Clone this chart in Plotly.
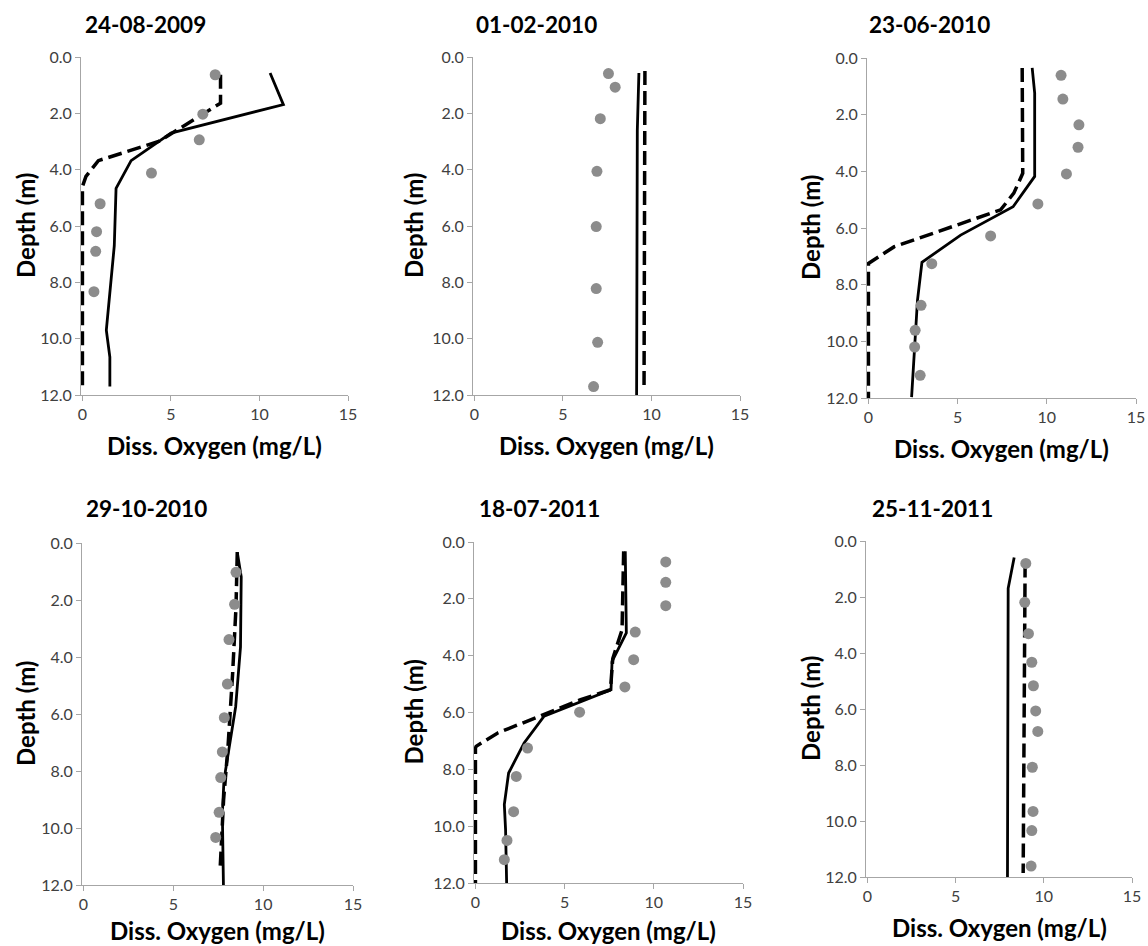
import plotly.graph_objects as go

W, H = 1148, 946

titles = ["24-08-2009", "01-02-2010", "23-06-2010", "29-10-2010", "18-07-2011", "25-11-2011"]

# Panel 1: 24-08-2009
obs_do_1 = [7.5, 6.8, 6.6, 3.9, 1.0, 0.8, 0.75, 0.65]
obs_dep_1 = [0.63, 2.03, 2.94, 4.12, 5.21, 6.2, 6.9, 8.33]
sim_do_1 = [10.6, 11.35, 5.0, 2.75, 1.9, 1.8, 1.35, 1.55, 1.55]
sim_dep_1 = [0.57, 1.69, 2.7, 3.68, 4.66, 6.7, 9.7, 10.65, 11.7]
alt_do_1 = [7.8, 7.8, 7.8, 4.3, 0.9, 0.2, 0.0, 0.0]
alt_dep_1 = [0.63, 1.1, 1.64, 3.0, 3.68, 4.24, 4.6, 11.7]

# Panel 2: 01-02-2010
obs_do_2 = [7.57, 7.95, 7.11, 6.92, 6.88, 6.88, 6.96, 6.73]
obs_dep_2 = [0.59, 1.07, 2.19, 4.06, 6.02, 8.22, 10.13, 11.7]
sim_do_2 = [9.29, 9.2, 9.16]
sim_dep_2 = [0.57, 2.6, 12.0]
alt_do_2 = [9.63, 9.58]
alt_dep_2 = [0.5, 11.75]

# Panel 3: 23-06-2010
obs_do_3 = [10.8, 10.9, 11.8, 11.75, 11.1, 9.5, 6.85, 3.55, 2.95, 2.62, 2.59, 2.9]
obs_dep_3 = [0.61, 1.45, 2.36, 3.15, 4.09, 5.15, 6.28, 7.26, 8.73, 9.61, 10.2, 11.2]
sim_do_3 = [9.18, 9.32, 9.32, 8.11, 5.17, 3.0, 2.75, 2.42]
sim_dep_3 = [0.35, 1.24, 4.18, 5.25, 6.25, 7.21, 8.55, 11.97]
alt_do_3 = [8.62, 8.65, 8.15, 7.41, 1.45, 0.15, 0.0, 0.0]
alt_dep_3 = [0.35, 4.07, 4.77, 5.36, 6.66, 7.19, 7.25, 12.0]

# Panel 4: 29-10-2010
obs_do_4 = [8.49, 8.41, 8.1, 8.01, 7.84, 7.73, 7.64, 7.55, 7.36]
obs_dep_4 = [1.03, 2.15, 3.39, 4.95, 6.13, 7.33, 8.23, 9.45, 10.33]
sim_do_4 = [8.56, 8.78, 8.74, 8.47, 7.82, 7.73, 7.79]
sim_dep_4 = [0.32, 1.19, 3.65, 5.75, 8.32, 9.49, 12.0]
alt_do_4 = [8.56, 8.49, 8.3, 8.05, 7.8, 7.6]
alt_dep_4 = [0.32, 2.24, 4.6, 7.1, 9.0, 11.5]

# Panel 5: 18-07-2011
obs_do_5 = [10.67, 10.67, 10.67, 8.96, 8.87, 8.38, 5.84, 2.92, 2.29, 2.14, 1.77, 1.62]
obs_dep_5 = [0.70, 1.42, 2.24, 3.17, 4.14, 5.1, 5.99, 7.25, 8.25, 9.49, 10.5, 11.18]
sim_do_5 = [8.4, 8.46, 7.66, 7.6, 3.85, 2.73, 1.86, 1.62, 1.69, 1.75]
sim_dep_5 = [0.33, 3.2, 4.2, 5.2, 6.13, 7.07, 8.13, 9.24, 10.12, 12.0]
alt_do_5 = [8.31, 8.22, 7.7, 7.57, 5.9, 1.25, 0.04, 0.0, 0.0]
alt_dep_5 = [0.33, 3.09, 4.1, 5.2, 5.55, 6.72, 7.19, 7.25, 12.0]

# Panel 6: 25-11-2011
obs_do_6 = [8.98, 8.92, 9.13, 9.32, 9.41, 9.54, 9.66, 9.35, 9.39, 9.32, 9.28]
obs_dep_6 = [0.8, 2.19, 3.31, 4.33, 5.17, 6.07, 6.8, 8.08, 9.66, 10.34, 11.61]
sim_do_6 = [8.32, 7.98, 7.94]
sim_dep_6 = [0.59, 1.69, 12.0]
alt_do_6 = [8.94, 8.83]
alt_dep_6 = [0.8, 11.86]

obs_do = [obs_do_1, obs_do_2, obs_do_3, obs_do_4, obs_do_5, obs_do_6]
obs_dep = [obs_dep_1, obs_dep_2, obs_dep_3, obs_dep_4, obs_dep_5, obs_dep_6]
sim_do = [sim_do_1, sim_do_2, sim_do_3, sim_do_4, sim_do_5, sim_do_6]
sim_dep = [sim_dep_1, sim_dep_2, sim_dep_3, sim_dep_4, sim_dep_5, sim_dep_6]
alt_do = [alt_do_1, alt_do_2, alt_do_3, alt_do_4, alt_do_5, alt_do_6]
alt_dep = [alt_dep_1, alt_dep_2, alt_dep_3, alt_dep_4, alt_dep_5, alt_dep_6]

x_ticks = [0, 5, 10, 15]
y_ticks = [0, 2, 4, 6, 8, 10, 12]
y_tick_text = ["0.0", "2.0", "4.0", "6.0", "8.0", "10.0", "12.0"]

# window-pixel boxes of each plot area: (left, right, top, bottom)
boxes = [
    (81, 348, 57, 395),
    (473, 740, 57, 395),
    (867, 1136, 58, 398),
    (82, 353, 543, 885),
    (474, 743, 542, 883),
    (866, 1132, 541, 877),
]
title_pos = [(86, 25), (477, 25), (870, 25), (87, 508), (480, 508), (873, 508)]
xtitle_y = [445, 445, 448, 930, 930, 927]
ytitle_x = [25, 413, 810, 25, 413, 810]


def px(xw):
    return xw / W


def py(yw):
    return 1 - yw / H


FONT = "Lato"
fig = go.Figure()
annotations = []

for i in range(6):
    n = i + 1
    xa = "x" if n == 1 else f"x{n}"
    ya = "y" if n == 1 else f"y{n}"
    l, r, t, b = boxes[i]
    fig.add_trace(go.Scatter(x=alt_do[i], y=alt_dep[i], mode="lines",
                             line=dict(color="black", width=3.5, dash="14px,6px"),
                             xaxis=xa, yaxis=ya, showlegend=False))
    fig.add_trace(go.Scatter(x=sim_do[i], y=sim_dep[i], mode="lines",
                             line=dict(color="black", width=2.8),
                             xaxis=xa, yaxis=ya, showlegend=False))
    fig.add_trace(go.Scatter(x=obs_do[i], y=obs_dep[i], mode="markers",
                             marker=dict(color="#8c8c8c", size=11),
                             xaxis=xa, yaxis=ya, showlegend=False, cliponaxis=False))
    axcommon = dict(showgrid=False, zeroline=False, showline=True, linecolor="#a6a6a6",
                    linewidth=1, ticks="outside", ticklen=5, tickcolor="#a6a6a6",
                    automargin=False,
                    tickfont=dict(family=FONT, size=16, color="#404040"))
    fig.layout[f"xaxis{'' if n == 1 else n}"] = dict(
        domain=[px(l), px(r)], anchor=ya, range=[-0.08, 15], tickvals=x_ticks,
        ticktext=[str(v) for v in x_ticks], **axcommon)
    fig.layout[f"yaxis{'' if n == 1 else n}"] = dict(
        domain=[py(b), py(t)], anchor=xa, range=[12, 0], tickvals=y_ticks,
        ticktext=y_tick_text, **axcommon)
    tx, ty = title_pos[i]
    annotations.append(dict(text=f"<b>{titles[i]}</b>", x=px(tx - 3), y=py(ty), xref="paper",
                            yref="paper", xanchor="left", yanchor="middle", showarrow=False,
                            font=dict(family=FONT, size=22.5, color="black")))
    annotations.append(dict(text="<b>Diss. Oxygen (mg/L)</b>", x=px((l + r) / 2), y=py(xtitle_y[i]),
                            xref="paper", yref="paper", xanchor="center", yanchor="middle",
                            showarrow=False, font=dict(family=FONT, size=24, color="black")))
    annotations.append(dict(text="<b>Depth (m)</b>", x=px(ytitle_x[i]), y=py((t + b) / 2),
                            xref="paper", yref="paper", xanchor="center", yanchor="middle",
                            textangle=-90, showarrow=False,
                            font=dict(family=FONT, size=24, color="black")))

fig.update_layout(width=W, height=H, margin=dict(l=0, r=0, t=0, b=0, autoexpand=False),
                  paper_bgcolor="white", plot_bgcolor="white", annotations=annotations,
                  hovermode=False)

# remove the browser's default 8px page margin so the figure fills the window exactly
fig.write_html("out.html", config={"displayModeBar": False, "staticPlot": True},
               post_script="document.body.style.margin='0';document.body.style.overflow='hidden';")
